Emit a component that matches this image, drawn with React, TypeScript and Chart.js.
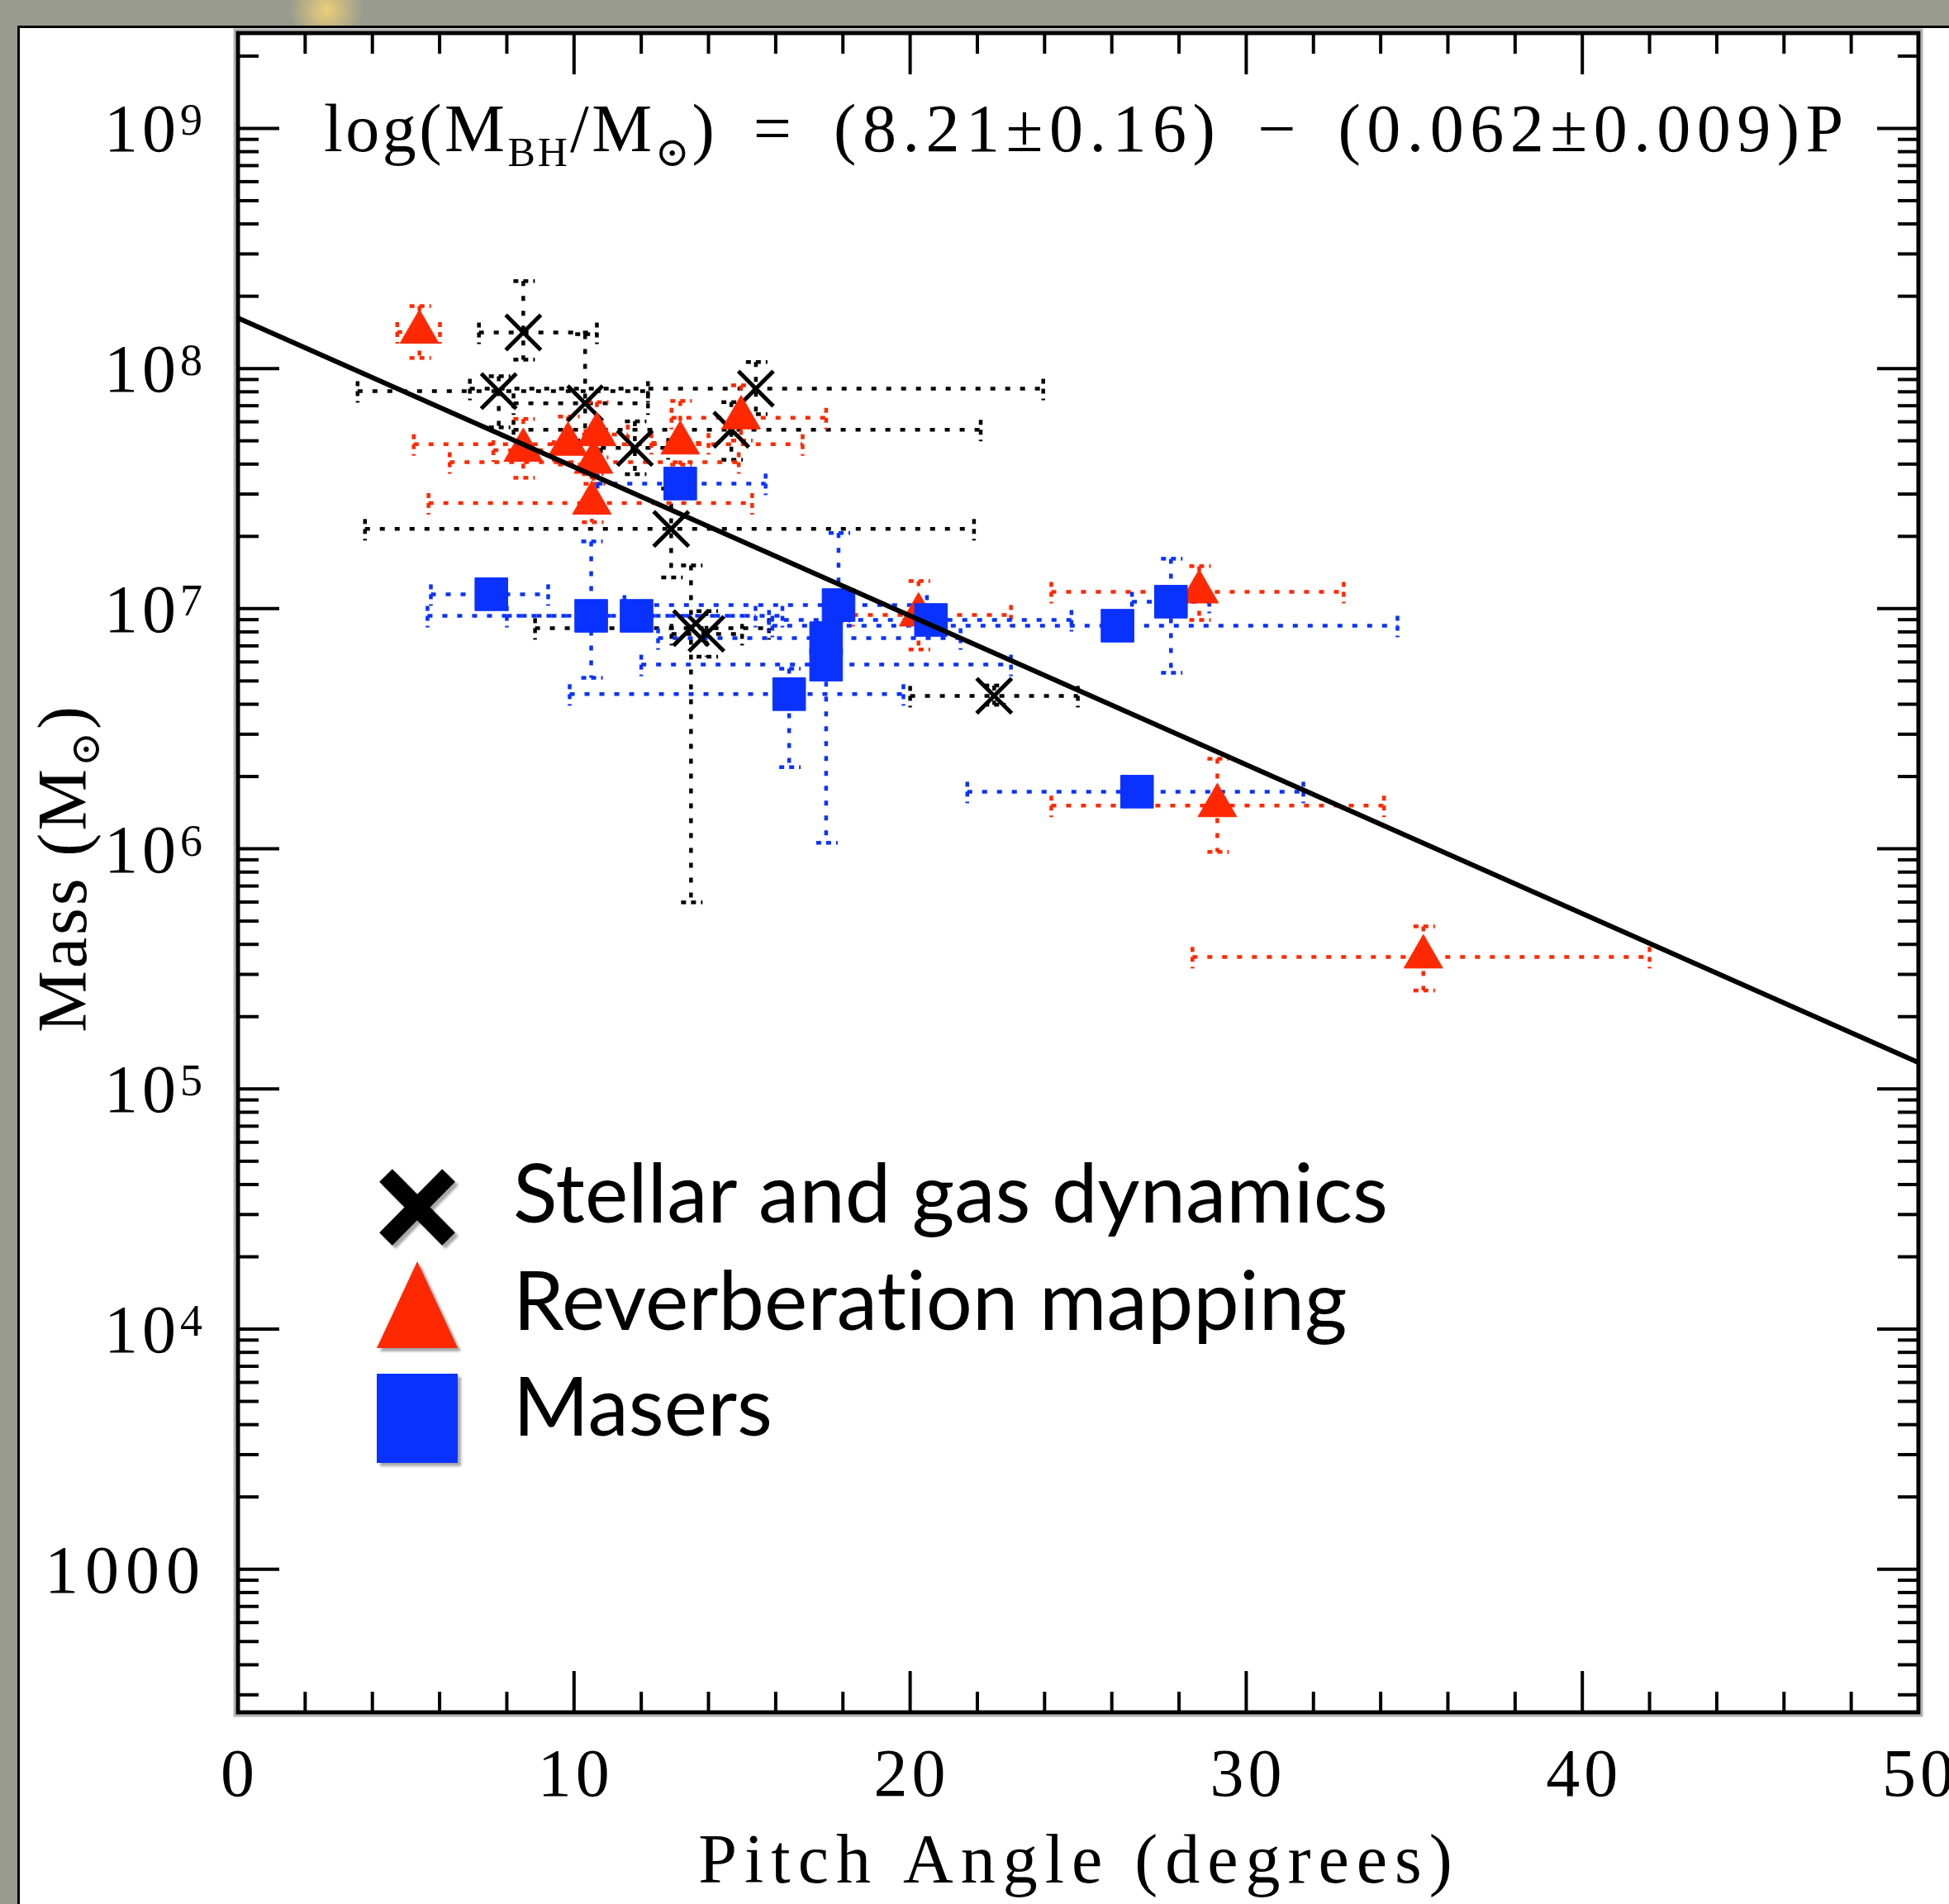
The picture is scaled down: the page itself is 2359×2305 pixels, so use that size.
import { useEffect, useRef } from 'react';
import { Chart, registerables } from 'chart.js';

Chart.register(...registerables);

const CANVAS_W = 2359;
const CANVAS_H = 2305;

// axis ranges
const xRange = [0, 50];
const yRangeLog = [2.404, 9.397];

// tick labels
const xTickValues = [0, 10, 20, 30, 40, 50];
const xTickLabels = ['0', '10', '20', '30', '40', '50'];
const yTickValues = [1e3, 1e4, 1e5, 1e6, 1e7, 1e8, 1e9];
const yTickBase = ['1000', '10', '10', '10', '10', '10', '10'];
const yTickExp = ['', '4', '5', '6', '7', '8', '9'];

// Stellar and gas dynamics (pitch angle, log10 mass, error ranges)
const sgdPitch = [8.49, 7.76, 10.33, 15.41, 11.81, 14.68, 12.89, 13.48, 13.94, 22.5];
const sgdLogMass = [8.15, 7.906, 7.855, 7.916, 7.669, 7.745, 7.332, 6.919, 6.895, 6.637];
const sgdPitchLo = [7.17, 3.56, 8.2, 6.9, 10.8, 8.2, 3.78, 8.84, 12.9, 20.0];
const sgdPitchHi = [10.68, 12.2, 12.2, 23.96, 12.8, 22.1, 21.9, 15.8, 15.0, 24.99];
const sgdLogMassLo = [8.037, 7.755, 7.7, 7.81, 7.56, 7.62, 7.13, 5.777, 6.8, 6.6];
const sgdLogMassHi = [8.364, 7.968, 8.143, 8.027, 7.78, 7.86, 7.5, 7.18, 6.99, 6.68];

// Reverberation mapping
const rmPitch = [5.4, 8.49, 9.82, 10.68, 10.58, 10.53, 13.16, 14.97, 20.25, 28.6, 29.14, 35.27];
const rmLogMass = [8.152, 7.66, 7.685, 7.725, 7.61, 7.44, 7.69, 7.795, 6.974, 7.07, 6.18, 5.55];
const rmPitchLo = [4.74, 7.6, 5.23, 9.8, 6.3, 5.67, 12.3, 12.9, 18.3, 24.2, 24.2, 28.4];
const rmPitchHi = [6.01, 9.4, 16.8, 11.6, 14.9, 15.3, 14.0, 17.5, 23.0, 32.9, 34.1, 42.0];
const rmLogMassLo = [8.044, 7.545, 7.6, 7.63, 7.52, 7.36, 7.6, 7.7, 6.83, 6.953, 5.987, 5.41];
const rmLogMassHi = [8.26, 7.79, 7.8, 7.86, 7.74, 7.56, 7.865, 7.93, 7.115, 7.177, 6.375, 5.677];

// Masers
const mPitch = [13.16, 7.54, 10.51, 11.86, 16.4, 17.87, 17.5, 17.5, 20.62, 26.17, 27.76, 26.75];
const mLogMass = [7.521, 7.06, 6.97, 6.97, 6.644, 7.015, 6.877, 6.767, 6.953, 6.929, 7.029, 6.238];
const mPitchLo = [10.7, 5.74, 5.64, 8.0, 9.87, 11.5, 12.5, 12.0, 15.8, 15.9, 26.6, 21.7];
const mPitchHi = [15.7, 9.23, 15.4, 16.2, 19.8, 20.5, 21.5, 23.0, 24.8, 34.5, 28.9, 31.7];
const mLogMassLo = [7.47, 7.0, 6.712, 6.92, 6.34, 6.95, 6.82, 6.025, 6.9, 6.88, 6.733, 6.19];
const mLogMassHi = [7.58, 7.12, 7.28, 7.02, 6.75, 7.315, 6.94, 6.82, 7.0, 6.98, 7.208, 6.29];

// Fit line endpoints
const fitPitch = [0, 50];
const fitLogMass = [8.21, 5.11];

const legendLabels = ['Stellar and gas dynamics', 'Reverberation mapping', 'Masers'];

const BLACK = '#000000';
const RED = '#ff2800';
const BLUE = '#0a32ff';
const SERIF = '"Liberation Serif", "DejaVu Serif", serif';

const pts = (p: number[], lm: number[]) => p.map((v, i) => ({ x: v, y: Math.pow(10, lm[i]) }));

type ErrGroup = {
  p: number[]; lm: number[]; pLo: number[]; pHi: number[]; lmLo: number[]; lmHi: number[]; color: string;
};

const errGroups: ErrGroup[] = [
  { p: sgdPitch, lm: sgdLogMass, pLo: sgdPitchLo, pHi: sgdPitchHi, lmLo: sgdLogMassLo, lmHi: sgdLogMassHi, color: BLACK },
  { p: rmPitch, lm: rmLogMass, pLo: rmPitchLo, pHi: rmPitchHi, lmLo: rmLogMassLo, lmHi: rmLogMassHi, color: RED },
  { p: mPitch, lm: mLogMass, pLo: mPitchLo, pHi: mPitchHi, lmLo: mLogMassLo, lmHi: mLogMassHi, color: BLUE },
];

function line(ctx: CanvasRenderingContext2D, x1: number, y1: number, x2: number, y2: number) {
  ctx.beginPath();
  ctx.moveTo(x1, y1);
  ctx.lineTo(x2, y2);
  ctx.stroke();
}

const bgPlugin = {
  id: 'bg',
  beforeDraw(chart: any) {
    const ctx: CanvasRenderingContext2D = chart.ctx;
    ctx.save();
    ctx.fillStyle = '#989b8e';
    ctx.fillRect(0, 0, CANVAS_W, CANVAS_H);
    const g = ctx.createRadialGradient(395, 12, 2, 395, 12, 45);
    g.addColorStop(0, 'rgba(240,210,120,0.9)');
    g.addColorStop(1, 'rgba(240,210,120,0)');
    ctx.fillStyle = g;
    ctx.fillRect(330, 0, 130, 32);
    ctx.fillStyle = '#ffffff';
    ctx.fillRect(21, 31, CANVAS_W, CANVAS_H);
    ctx.fillStyle = '#000';
    ctx.fillRect(21, 31, CANVAS_W, 3);
    ctx.fillRect(21, 31, 3, CANVAS_H);
    ctx.restore();
  },
};

const errPlugin = {
  id: 'errbars',
  beforeDatasetsDraw(chart: any) {
    const ctx: CanvasRenderingContext2D = chart.ctx;
    const xs = chart.scales.x;
    const ys = chart.scales.y;
    ctx.save();
    ctx.lineWidth = 4.5;
    ctx.lineCap = 'butt';
    errGroups.forEach((g) => {
      ctx.strokeStyle = g.color;
      g.p.forEach((p, i) => {
        const cx = xs.getPixelForValue(p);
        const cy = ys.getPixelForValue(Math.pow(10, g.lm[i]));
        const xl = xs.getPixelForValue(g.pLo[i]);
        const xh = xs.getPixelForValue(g.pHi[i]);
        const yl = ys.getPixelForValue(Math.pow(10, g.lmLo[i]));
        const yh = ys.getPixelForValue(Math.pow(10, g.lmHi[i]));
        ctx.setLineDash([6, 12]);
        line(ctx, xl, cy, xh, cy);
        line(ctx, cx, yh, cx, yl);
        ctx.setLineDash([6, 6]);
        line(ctx, xl, cy - 12, xl, cy + 14);
        line(ctx, xh, cy - 12, xh, cy + 14);
        line(ctx, cx - 12, yl, cx + 14, yl);
        line(ctx, cx - 12, yh, cx + 14, yh);
      });
    });
    ctx.restore();
  },
};

function drawParts(ctx: CanvasRenderingContext2D, parts: { t: string; s: number; dy: number; gap?: number; sp?: number }[], x0: number, base: number, spacing: number) {
  let x = x0;
  parts.forEach((pt) => {
    ctx.font = `${pt.s}px ${SERIF}`;
    (ctx as any).letterSpacing = `${pt.sp !== undefined ? pt.sp : spacing}px`;
    ctx.fillText(pt.t, x, base + pt.dy);
    x += ctx.measureText(pt.t).width + (pt.gap || 0);
  });
}

const framePlugin = {
  id: 'frame',
  afterDraw(chart: any) {
    const ctx: CanvasRenderingContext2D = chart.ctx;
    const { left, right, top, bottom } = chart.chartArea;
    const xs = chart.scales.x;
    const ys = chart.scales.y;
    ctx.save();
    // frame
    ctx.strokeStyle = '#b4b4b4';
    ctx.lineWidth = 3;
    ctx.strokeRect(left - 4, top - 4, right - left + 8, bottom - top + 8);
    ctx.strokeStyle = '#000';
    ctx.lineWidth = 5;
    ctx.strokeRect(left, top, right - left, bottom - top);

    // x ticks (inward, top and bottom)
    ctx.lineWidth = 4;
    for (let v = xRange[0] + 2; v < xRange[1]; v += 2) {
      const px = xs.getPixelForValue(v);
      const len = v % 10 === 0 ? 50 : 25;
      line(ctx, px, bottom, px, bottom - len);
      line(ctx, px, top, px, top + len);
    }
    // y ticks (log)
    for (let d = 2; d <= 9; d++) {
      for (let k = 1; k <= 9; k++) {
        const lv = d + Math.log10(k);
        if (lv <= yRangeLog[0] || lv >= yRangeLog[1]) continue;
        const py = ys.getPixelForValue(k * Math.pow(10, d));
        const len = k === 1 ? 50 : 25;
        line(ctx, left, py, left + len, py);
        line(ctx, right, py, right - len, py);
      }
    }

    // tick labels
    ctx.fillStyle = '#000';
    ctx.textBaseline = 'alphabetic';
    (ctx as any).letterSpacing = '5px';
    ctx.textAlign = 'center';
    ctx.font = `82px ${SERIF}`;
    xTickValues.forEach((v, i) => {
      const px = xs.getPixelForValue(v);
      ctx.fillText(xTickLabels[i], px + 2, 2174);
    });
    ctx.textAlign = 'left';
    yTickValues.forEach((v, i) => {
      const py = ys.getPixelForValue(v);
      ctx.font = `82px ${SERIF}`;
      (ctx as any).letterSpacing = yTickExp[i] ? '5px' : '8px';
      const wb = ctx.measureText(yTickBase[i]).width;
      ctx.font = `54px ${SERIF}`;
      const we = yTickExp[i] ? ctx.measureText(yTickExp[i]).width : 0;
      const xr = 250;
      const xb = xr - we - wb;
      ctx.font = `82px ${SERIF}`;
      ctx.fillText(yTickBase[i], xb, py + 28);
      if (yTickExp[i]) {
        ctx.font = `54px ${SERIF}`;
        ctx.fillText(yTickExp[i], xr - we, py + 8);
      }
    });

    // x axis title
    ctx.textAlign = 'center';
    ctx.font = `84px ${SERIF}`;
    (ctx as any).letterSpacing = '9px';
    ctx.fillText('Pitch Angle (degrees)', 1306, 2279);

    // y axis title (rotated)
    ctx.save();
    ctx.translate(104, 1250);
    ctx.rotate(-Math.PI / 2);
    ctx.textAlign = 'left';
    drawParts(ctx, [
      { t: 'Mass (M', s: 84, dy: 0 },
      { t: '⊙', s: 50, dy: 16 },
      { t: ')', s: 84, dy: 0 },
    ], 0, 0, 3);
    ctx.restore();

    // equation
    ctx.textAlign = 'left';
    drawParts(ctx, [
      { t: 'log(M', s: 82, dy: 0, sp: 3.5 },
      { t: 'BH', s: 50, dy: 18, sp: 3 },
      { t: '/M', s: 82, dy: 0, sp: 3.5 },
      { t: '⊙', s: 50, dy: 18, sp: 3 },
      { t: ')', s: 82, dy: 0, gap: 44, sp: 3 },
      { t: '=', s: 82, dy: 0, gap: 44 },
      { t: '(8.21±0.16)', s: 82, dy: 0, gap: 44, sp: 7.5 },
      { t: '−', s: 82, dy: 0, gap: 44 },
      { t: '(0.062±0.009)P', s: 82, dy: 0, sp: 7.5 },
    ], 392, 183, 7);

    // legend
    (ctx as any).letterSpacing = '0px';
    ctx.shadowColor = 'rgba(0,0,0,0.35)';
    ctx.shadowOffsetX = 4;
    ctx.shadowOffsetY = 4;
    ctx.shadowBlur = 3;
    const mx = 505;
    // X marker
    ctx.strokeStyle = BLACK;
    ctx.lineWidth = 22;
    ctx.lineCap = 'butt';
    line(ctx, mx - 38, 1423, mx + 38, 1500);
    line(ctx, mx + 38, 1423, mx - 38, 1500);
    // triangle
    ctx.fillStyle = RED;
    ctx.beginPath();
    ctx.moveTo(mx, 1527);
    ctx.lineTo(mx + 49, 1632);
    ctx.lineTo(mx - 49, 1632);
    ctx.closePath();
    ctx.fill();
    // square
    ctx.fillStyle = BLUE;
    ctx.fillRect(mx - 49, 1663, 98, 108);
    ctx.shadowColor = 'rgba(0,0,0,0)';
    ctx.fillStyle = '#000';
    ctx.font = '99px Lato, "Open Sans", sans-serif';
    (ctx as any).letterSpacing = '0.1px';
    ctx.textAlign = 'left';
    const rows = [1480, 1610, 1738];
    legendLabels.forEach((t, i) => ctx.fillText(t, 621, rows[i]));
    ctx.restore();
  },
};

export default function App() {
  const ref = useRef<HTMLCanvasElement | null>(null);
  useEffect(() => {
    const canvas = ref.current;
    if (!canvas) return;
    const chart = new Chart(canvas, {
      type: 'scatter',
      data: {
        datasets: [
          {
            label: 'Fit',
            type: 'line',
            data: pts(fitPitch, fitLogMass),
            borderColor: BLACK,
            borderWidth: 6,
            pointRadius: 0,
            fill: false,
            order: 0,
          } as any,
          {
            label: legendLabels[2],
            data: pts(mPitch, mLogMass),
            pointStyle: 'rect',
            pointRadius: 28,
            backgroundColor: BLUE,
            borderColor: BLUE,
            borderWidth: 1,
            order: 1,
          },
          {
            label: legendLabels[1],
            data: pts(rmPitch, rmLogMass),
            pointStyle: 'triangle',
            pointRadius: 27,
            backgroundColor: RED,
            borderColor: RED,
            borderWidth: 1,
            order: 2,
          },
          {
            label: legendLabels[0],
            data: pts(sgdPitch, sgdLogMass),
            pointStyle: 'crossRot',
            pointRadius: 30,
            borderColor: BLACK,
            backgroundColor: BLACK,
            borderWidth: 5,
            order: 3,
          },
        ],
      },
      options: {
        animation: false,
        responsive: false,
        devicePixelRatio: 1,
        events: [],
        layout: { padding: { left: 288, top: 40, right: 37, bottom: 232 } },
        scales: {
          x: { type: 'linear', min: xRange[0], max: xRange[1], display: false },
          y: { type: 'logarithmic', min: Math.pow(10, yRangeLog[0]), max: Math.pow(10, yRangeLog[1]), display: false },
        },
        plugins: { legend: { display: false }, tooltip: { enabled: false } },
      },
      plugins: [bgPlugin, errPlugin, framePlugin],
    });
    return () => chart.destroy();
  }, []);
  return (
    <div style={{ position: 'absolute', left: 0, top: 0, width: CANVAS_W, height: CANVAS_H }}>
      <canvas ref={ref} width={CANVAS_W} height={CANVAS_H} style={{ width: CANVAS_W, height: CANVAS_H, display: 'block' }} />
    </div>
  );
}
